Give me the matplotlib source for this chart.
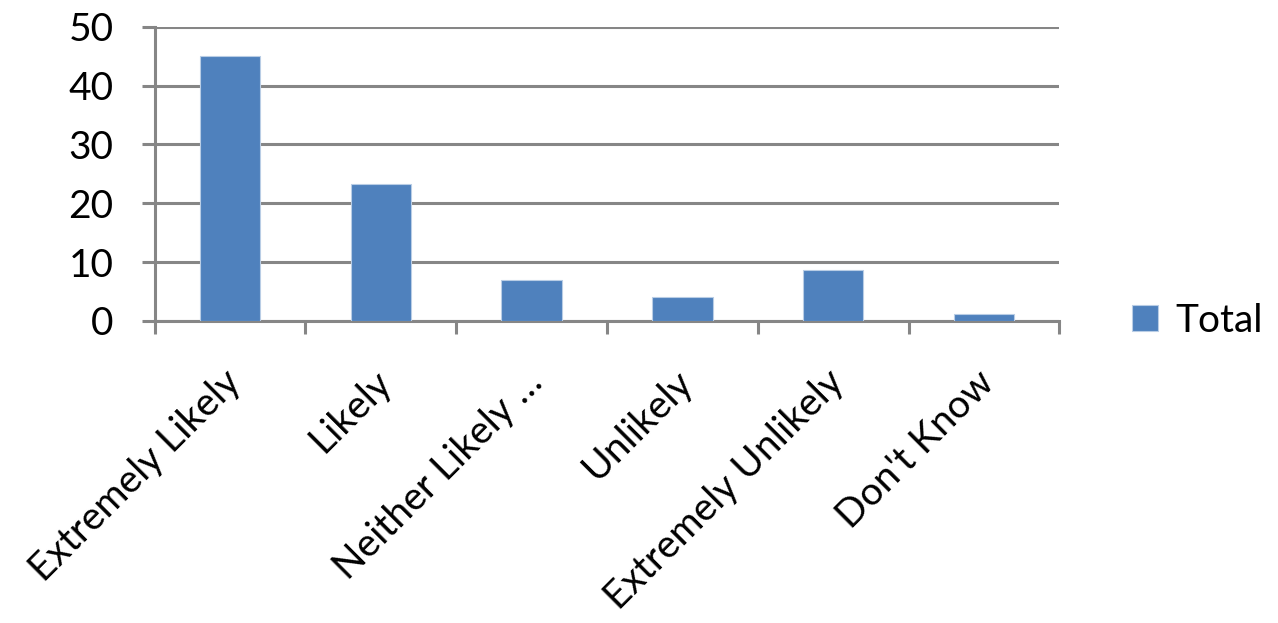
import matplotlib.pyplot as plt
import matplotlib.transforms as mtransforms
import numpy as np

# survey answers
categories = ["Extremely Likely", "Likely", "Neither Likely \u2026", "Unlikely",
              "Extremely Unlikely", "Don't Know"]
totals = [45.0, 23.3, 7.0, 4.1, 8.7, 1.2]
y_ticks = [0, 10, 20, 30, 40, 50]

plt.rcParams['font.family'] = ['Lato', 'DejaVu Sans']

fig = plt.figure(figsize=(12.78, 6.23), dpi=100)
ax = fig.add_axes([0.121, 0.485, 0.708, 0.472])

x = np.arange(len(categories))
bars = ax.bar(x, totals, width=0.4, color="#4f81bd", edgecolor="#b9cde5",
              linewidth=0.8, label="Total", zorder=3)

grey = "#868686"
ax.set_xlim(-0.5, len(categories) - 0.5)
ax.set_ylim(0, 50)
ax.set_yticks(y_ticks)
ax.yaxis.grid(True, color=grey, linewidth=2.2, zorder=0)
ax.set_axisbelow(True)

# category boundaries carry the tick marks, labels sit at bar centres
ax.set_xticks(np.arange(len(categories) + 1) - 0.5)
ax.set_xticklabels([])
ax.set_xticks(x, minor=True)
ax.set_xticklabels(categories, minor=True, rotation=45, ha="right",
                   rotation_mode="anchor", fontsize=28)
ax.tick_params(axis="x", which="minor", length=0, pad=31)
ax.tick_params(axis="x", which="major", length=9, width=2.2, color=grey)
ax.tick_params(axis="y", length=9.5, width=2.2, color=grey, labelsize=28, pad=20)

# nudge the slanted labels a little to the left
shift = mtransforms.ScaledTranslation(-0.08, 0, fig.dpi_scale_trans)
for lbl in ax.get_xticklabels(minor=True):
    lbl.set_transform(lbl.get_transform() + shift)

for side in ["top", "right"]:
    ax.spines[side].set_visible(False)
for side in ["left", "bottom"]:
    ax.spines[side].set_color(grey)
    ax.spines[side].set_linewidth(2.2)

ax.legend(loc="center left", bbox_to_anchor=(1.042, 0.0), frameon=False,
          fontsize=28, handlelength=0.65, handleheight=0.65, handletextpad=0.45)

fig.savefig("out.png", dpi=100)
